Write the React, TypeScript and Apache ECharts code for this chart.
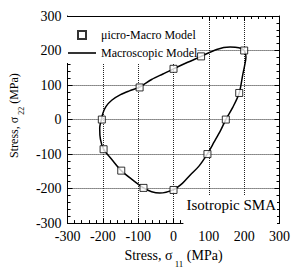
import React, { useEffect, useRef } from "react";
import * as echarts from "echarts";

const curveS11 = [-204, -200, -191, -175, -150, -125, -96, -62, -30, 0, 40, 78, 122, 160, 185, 200, 205, 201, 196, 186, 168, 148, 134, 115, 95, 72, 48, 25, 0, -39, -62, -85, -117, -148, -173, -198, -207, -209, -204];
const curveS22 = [0, 18, 38, 56, 72, 83, 94, 116, 132, 147, 166, 183, 203, 210, 208, 200, 181, 155, 130, 77, 36, 0, -30, -65, -101, -135, -160, -185, -203, -213, -209, -198, -174, -148, -118, -86, -57, -25, 0];

const markerS11 = [-203, -96, 0, 78, 200, 186, 148, 96, 0, -85, -148, -198];
const markerS22 = [0, 93, 147, 183, 200, 77, 0, -100, -204, -198, -148, -86];

const axisMin = -300;
const axisMax = 300;
const axisStep = 100;

const FONT = "'Liberation Serif', 'Times New Roman', Times, serif";

export default function App() {
  const ref = useRef<HTMLDivElement>(null);
  useEffect(() => {
    if (!ref.current) return;
    const chart = echarts.init(ref.current, null, { renderer: "svg" });
    const curve = curveS11.map((x, i) => [x, curveS22[i]]);
    const markers = markerS11.map((x, i) => [x, markerS22[i]]);
    const tickStyle = {
      axisLine: { show: true, onZero: false, lineStyle: { color: "#000", width: 1 } },
      axisTick: { show: true, inside: true, length: 5, lineStyle: { color: "#000" } },
      minorTick: { show: true, splitNumber: 5, length: 3, lineStyle: { color: "#000" } },
    };
    const grid = { type: [1, 1], color: "#222", width: 1 };
    chart.setOption({
      animation: false,
      backgroundColor: "#fff",
      grid: { left: 64, right: 12, top: 16, bottom: 43 },
      legend: {
        orient: "vertical",
        left: 66,
        top: 17,
        padding: [11, 0, 3, 2],
        itemGap: 4,
        itemWidth: 28,
        itemHeight: 8,
        symbolKeepAspect: true,
        backgroundColor: "#fff",
        textStyle: { fontFamily: FONT, fontSize: 12, lineHeight: 14, color: "#000" },
        data: [
          { name: "μicro-Macro Model", icon: "path://M0 0H10V10H0Z" },
          { name: "Macroscopic Model", icon: "path://M0 0H28V1.6H0Z" },
        ],
      },
      xAxis: [
        {
          type: "value",
          min: axisMin,
          max: axisMax,
          interval: axisStep,
          position: "bottom",
          ...tickStyle,
          axisLabel: { fontFamily: FONT, fontSize: 14, color: "#000", margin: 6 },
          splitLine: { show: true, lineStyle: grid },
          name: "{a|Stress, σ}{s| 11}{a| (MPa)}",
          nameLocation: "middle",
          nameGap: 20,
          nameTextStyle: {
            rich: {
              a: { fontFamily: FONT, fontSize: 14, color: "#000", verticalAlign: "top" },
              s: { fontFamily: FONT, fontSize: 9, color: "#000", verticalAlign: "top", padding: [11, 0, 0, 0] },
            },
          },
        },
        {
          type: "value",
          min: axisMin,
          max: axisMax,
          interval: axisStep,
          position: "top",
          ...tickStyle,
          axisLabel: { show: false },
          splitLine: { show: false },
        },
      ],
      yAxis: [
        {
          type: "value",
          min: axisMin,
          max: axisMax,
          interval: axisStep,
          position: "left",
          ...tickStyle,
          axisLabel: { fontFamily: FONT, fontSize: 14, color: "#000", margin: 6 },
          splitLine: { show: true, lineStyle: grid },
          name: "{a|Stress, σ}{s| 22}{a| (MPa)}",
          nameLocation: "middle",
          nameGap: 34,
          nameTextStyle: {
            padding: [0, 0, 0, 8],
            rich: {
              a: { fontFamily: FONT, fontSize: 12, color: "#000", verticalAlign: "top" },
              s: { fontFamily: FONT, fontSize: 8, color: "#000", verticalAlign: "top", padding: [9, 0, 0, 0] },
            },
          },
        },
        {
          type: "value",
          min: axisMin,
          max: axisMax,
          interval: axisStep,
          position: "right",
          ...tickStyle,
          axisLabel: { show: false },
          splitLine: { show: false },
        },
      ],
      graphic: [
        {
          type: "text",
          right: 16,
          top: 196,
          z: 10,
          style: {
            text: "Isotropic SMA",
            fontFamily: FONT,
            fontSize: 15,
            fill: "#000",
            backgroundColor: "#fff",
            padding: [1, 1, 12, 3],
          },
        },
      ],
      series: [
        {
          name: "Macroscopic Model",
          type: "line",
          data: curve,
          smooth: 0.3,
          symbol: "none",
          lineStyle: { color: "#000", width: 1.5 },
          itemStyle: { color: "#000" },
          z: 5,
        },
        {
          name: "μicro-Macro Model",
          type: "scatter",
          data: markers,
          symbol: "rect",
          symbolSize: 7,
          itemStyle: { color: "#fff", borderColor: "#000", borderWidth: 1 },
          z: 6,
        },
      ],
    });
    return () => chart.dispose();
  }, []);
  return (
    <div
      ref={ref}
      style={{ position: "absolute", left: 0, top: 0, width: 293, height: 273 }}
    />
  );
}
